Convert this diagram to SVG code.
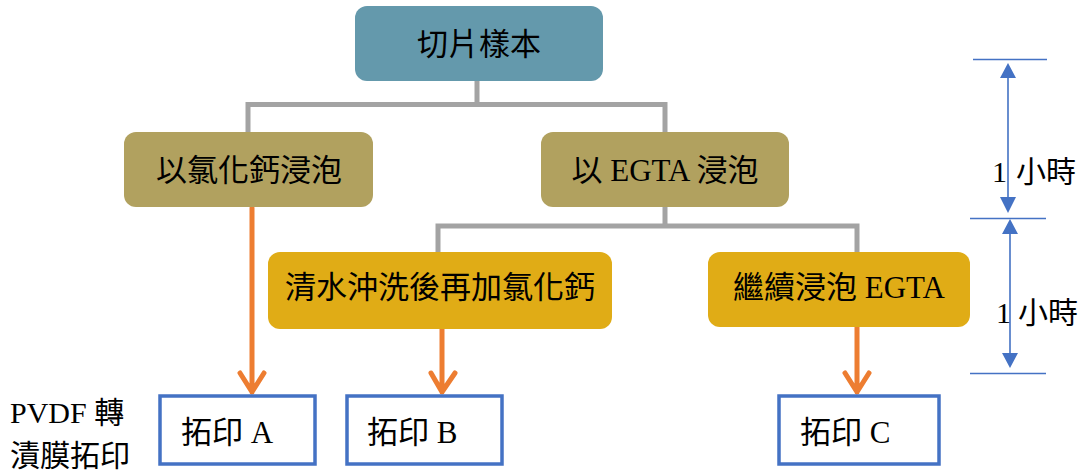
<svg xmlns="http://www.w3.org/2000/svg" width="1085" height="472" viewBox="0 0 1085 472">
  <defs>
    <style>
      text { font-family: "Liberation Serif", "Noto Sans CJK TC", serif; fill: #000; }
      .lbl { font-size: 31px; text-anchor: middle; }
      .box { font-size: 31px; }
      .side { font-size: 30px; }
      .gray { fill: none; stroke: #a3a3a3; stroke-width: 5; }
      .orange { fill: none; stroke: #ed7d31; stroke-width: 5; stroke-linecap: round; stroke-linejoin: round; }
      .blue { fill: #ffffff; stroke: #4472c4; stroke-width: 3.5; }
      .dim { fill: none; stroke: #4472c4; stroke-width: 1.6; }
      .tri { fill: #4472c4; }
    </style>
  </defs>
  <rect width="1085" height="472" fill="#ffffff"/>

  <g id="connectors">
    <path class="gray" d="M477 80 V104.5 M248 132 V104.5 H665 V132"/>
    <path class="gray" d="M665 207 V226 M438 252 V226 H857 V252"/>
    <path class="orange" d="M252 208 V392 M240 373 L252 392 L264 373"/>
    <path class="orange" d="M442 329 V392 M431 373 L442 392 L455 373"/>
    <path class="orange" d="M857 327 V392 M845 373 L857 392 L869 373"/>
  </g>

  <g id="node-top">
    <rect x="355" y="6" width="248" height="75" rx="12" fill="#6499ac"/>
    <text class="lbl" x="479" y="55">切片樣本</text>
  </g>
  <g id="node-cacl">
    <rect x="124" y="132" width="249" height="75" rx="12" fill="#b1a15f"/>
    <text class="lbl" x="249" y="181">以氯化鈣浸泡</text>
  </g>
  <g id="node-egta">
    <rect x="541" y="132" width="248" height="75" rx="12" fill="#b1a15f"/>
    <text class="lbl" x="665" y="181">以 EGTA 浸泡</text>
  </g>
  <g id="node-wash">
    <rect x="268" y="252" width="344" height="77" rx="12" fill="#e0ac16"/>
    <text class="lbl" x="440" y="298">清水沖洗後再加氯化鈣</text>
  </g>
  <g id="node-cont">
    <rect x="708" y="252" width="262" height="75" rx="12" fill="#e0ac16"/>
    <text class="lbl" x="839" y="298">繼續浸泡 EGTA</text>
  </g>

  <g id="box-a">
    <rect class="blue" x="160" y="396" width="155" height="68"/>
    <text class="box" x="181" y="443">拓印 A</text>
  </g>
  <g id="box-b">
    <rect class="blue" x="347" y="396" width="155" height="68"/>
    <text class="box" x="367" y="443">拓印 B</text>
  </g>
  <g id="box-c">
    <rect class="blue" x="779" y="396" width="160" height="68"/>
    <text class="box" x="800" y="443">拓印 C</text>
  </g>

  <g id="side-label">
    <text class="side" x="10" y="423">PVDF 轉</text>
    <text class="side" x="10" y="466">漬膜拓印</text>
  </g>

  <g id="time-scale">
    <path class="dim" d="M973 59.5 H1047 M970 218.5 H1046 M970 373.5 H1046 M1008 70 V205 M1010 226 V360"/>
    <polygon class="tri" points="1008,63 1000,78 1016,78"/>
    <polygon class="tri" points="1008,213 1000,197 1016,197"/>
    <polygon class="tri" points="1010,219 1002,234 1018,234"/>
    <polygon class="tri" points="1010,368 1002,353 1018,353"/>
    <text class="side" x="992" y="182">1</text>
    <text class="side" x="1016" y="182">小時</text>
    <text class="side" x="996" y="323">1</text>
    <text class="side" x="1018" y="323">小時</text>
  </g>
</svg>
